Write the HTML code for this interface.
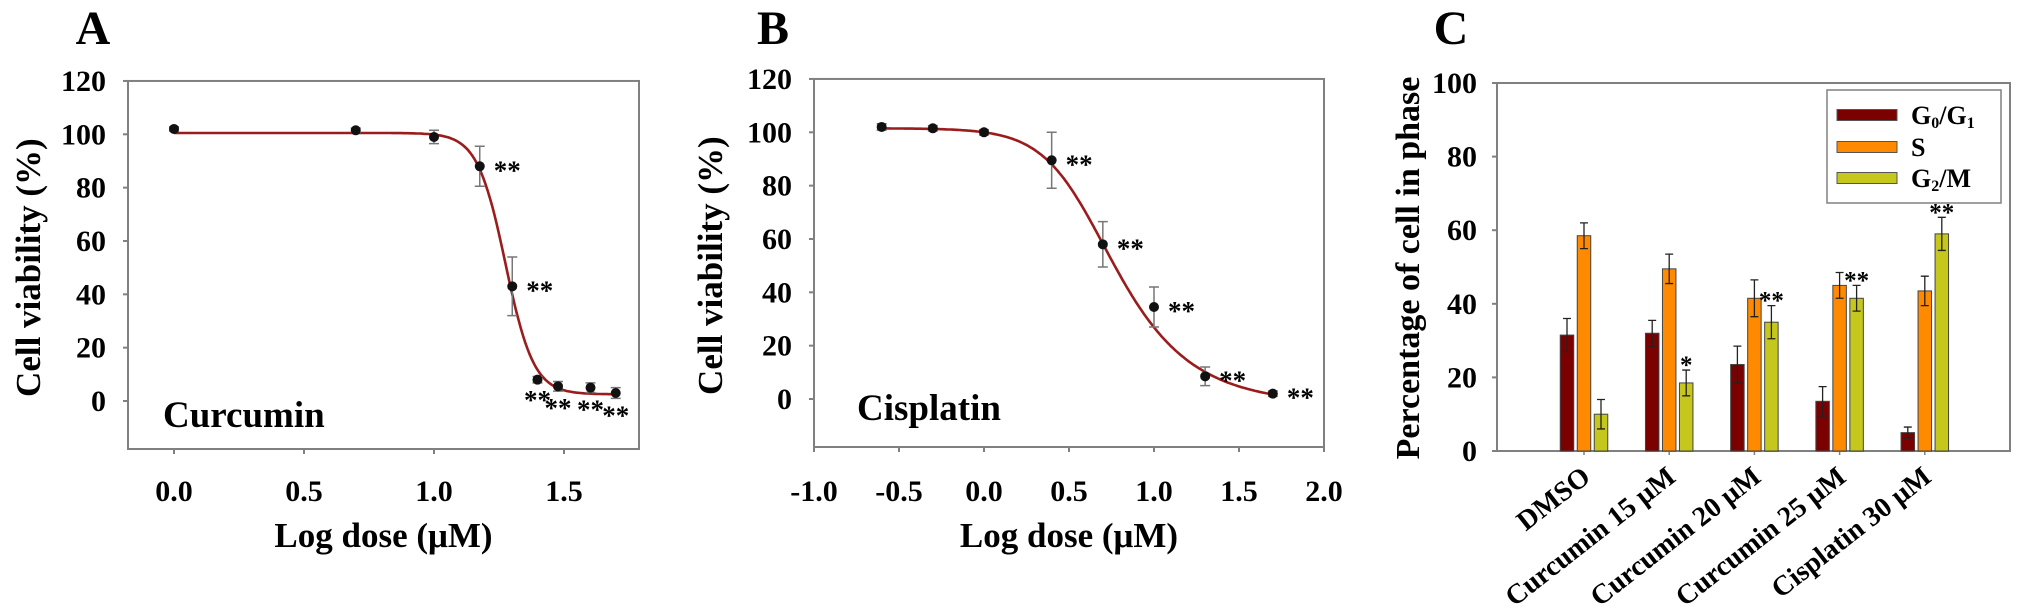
<!DOCTYPE html>
<html><head><meta charset="utf-8">
<style>
html,body{margin:0;padding:0;background:#fff;}
svg{display:block;font-family:"Liberation Serif",serif;font-weight:bold;}
</style></head>
<body>
<svg id="fig" width="2031" height="613" viewBox="0 0 2031 613" xmlns="http://www.w3.org/2000/svg">
<g id="pa"></g>
<g id="pb"></g>
<g id="pc"></g>
</svg>
<script>
// Panel A – curcumin
const aDose = [0, 0.699, 1.0, 1.176, 1.301, 1.398, 1.477, 1.602, 1.699];
const aViab = [102, 101.5, 99, 88, 43, 8, 5.5, 5, 3];
const aErr = [0.8, 0.8, 2.5, 7.5, 11, 1.2, 1.8, 1.8, 2];
const aSig = ["", "", "", "**", "**", "**", "**", "**", "**"];
const aFit = [100.5, 2.5, 1.275, 8, 1]; // top, bottom, logIC50, hill, asymmetry
const aXTicks = [0.0, 0.5, 1.0, 1.5];
// Panel B – cisplatin
const bDose = [-0.602, -0.301, 0, 0.398, 0.699, 1.0, 1.301, 1.699];
const bViab = [102, 101.5, 100, 89.5, 58, 34.5, 8.5, 2];
const bErr = [1.2, 1, 1, 10.5, 8.5, 7.5, 3.5, 1];
const bSig = ["", "", "", "**", "**", "**", "**", "**"];
const bFit = [101.5, -2, 0.587, 2.6, 0.5];
const bXTicks = [-1.0, -0.5, 0.0, 0.5, 1.0, 1.5, 2.0];
const yTicks = [0, 20, 40, 60, 80, 100, 120];
// Panel C – cell cycle
const cCats = ["DMSO", "Curcumin 15 μM", "Curcumin 20 μM", "Curcumin 25 μM", "Cisplatin 30 μM"];
const cG0 = [31.5, 32, 23.5, 13.5, 5];
const cG0Err = [4.5, 3.5, 5, 4, 1.5];
const cS = [58.5, 49.5, 41.5, 45, 43.5];
const cSErr = [3.5, 4, 5, 3.5, 4];
const cG2 = [10, 18.5, 35, 41.5, 59];
const cG2Err = [4, 3.5, 4.5, 3.5, 4.5];
const cG2Sig = ["", "*", "**", "**", "**"];
const cYTicks = [0, 20, 40, 60, 80, 100];

const NS = "http://www.w3.org/2000/svg";
function mk(parent, tag, attrs, text) {
  const e = document.createElementNS(NS, tag);
  for (const k in attrs) e.setAttribute(k, attrs[k]);
  if (text !== undefined) e.textContent = text;
  parent.appendChild(e);
  return e;
}

function dosePanel(g, o) {
  const X = v => o.x0 + (v - o.xmin) * o.xs;
  const Y = v => 401 + (o.yoff || 0) - v * 2.667;
  const L = o.left, R = o.right, T = Y(120), B = Y(-18);
  const lt = mk(g, 'text', {x: o.letterX, y: 44, 'font-size': 48, 'text-anchor': 'middle'}, o.letter);
  
  
  const fr = mk(g, 'rect', {x: L, y: T, width: R - L, height: B - T, fill: 'none', stroke: '#808080', 'stroke-width': 2});
  
  
  yTicks.forEach(t => {
    const tk = mk(g, 'line', {x1: L - 5, x2: L, y1: Y(t), y2: Y(t), stroke: '#808080', 'stroke-width': 2});
    
    
    const tl = mk(g, 'text', {x: L - 22, y: Y(t) + 10, 'font-size': 30, 'text-anchor': 'end'}, String(t));
    
    
  });
  o.xticks.forEach(t => {
    const tk = mk(g, 'line', {x1: X(t), x2: X(t), y1: B, y2: B + 5, stroke: '#808080', 'stroke-width': 2});
    
    
    const tl = mk(g, 'text', {x: X(t), y: 501, 'font-size': 30, 'text-anchor': 'middle'}, t.toFixed(1));
    
    
  });
  const yt = mk(g, 'text', {x: 0, y: 0, 'font-size': 35, 'text-anchor': 'middle', transform: `translate(${o.ytX},${Y(50)}) rotate(-90)`}, 'Cell viability (%)');
  
  
  const xt = mk(g, 'text', {x: (L + R) / 2, y: 547, 'font-size': 35, 'text-anchor': 'middle'}, 'Log dose (μM)');
  
  
  const dn = mk(g, 'text', {x: o.drugX, y: o.drugY, 'font-size': 37}, o.drug);
  
  
  const [top, bot, c, h, s] = o.fit;
  const x0 = o.dose[0], x1 = o.dose[o.dose.length - 1];
  let d = '';
  for (let i = 0; i <= 200; i++) {
    const xv = x0 + (x1 - x0) * i / 200;
    const yv = bot + (top - bot) / Math.pow(1 + Math.pow(10, (xv - c) * h), s);
    d += (i ? 'L' : 'M') + X(xv).toFixed(1) + ' ' + Y(yv).toFixed(1);
  }
  const cv = mk(g, 'path', {d, fill: 'none', stroke: '#9b1c1c', 'stroke-width': 2.6});
  
  
  o.dose.forEach((xv, i) => {
    const px = X(xv), py = Y(o.viab[i]), e = o.err[i];
    const eg = mk(g, 'path', {d: `M${px} ${Y(o.viab[i] + e)}V${Y(o.viab[i] - e)}M${px - 5} ${Y(o.viab[i] + e)}h10M${px - 5} ${Y(o.viab[i] - e)}h10`, stroke: '#777', 'stroke-width': 1.5, fill: 'none'});
    
    
    const pt = mk(g, 'circle', {cx: px, cy: py, r: 5, fill: '#111'});
    
    
    if (o.sig[i]) {
      let sx, sy, anchor;
      if (o.below && o.viab[i] < 15) { sx = px; sy = Y(o.viab[i] - e) + 26; anchor = 'middle'; }
      else { sx = px + 14; sy = py + 13; anchor = 'start'; }
      const st = mk(g, 'text', {x: sx, y: sy, 'font-size': 27, 'text-anchor': anchor}, o.sig[i]);
      
      
    }
  });
}

dosePanel(document.getElementById('pa'), {letter: 'A', letterX: 93, left: 128, right: 639, x0: 174, xmin: 0, xs: 260,
  xticks: aXTicks, dose: aDose, viab: aViab, err: aErr, sig: aSig, fit: aFit, ytX: 40,
  drug: 'Curcumin', drugX: 163, drugY: 427, below: true});
dosePanel(document.getElementById('pb'), {letter: 'B', letterX: 773, left: 814, right: 1324, x0: 814, xmin: -1, xs: 170, yoff: -2,
  xticks: bXTicks, dose: bDose, viab: bViab, err: bErr, sig: bSig, fit: bFit, ytX: 722,
  drug: 'Cisplatin', drugX: 857, drugY: 420, below: false});

// Panel C
(function () {
  const g = document.getElementById('pc');
  const L = 1497, R = 2010, T = 83, B = 451;
  const Y = v => B - v * (B - T) / 100;
  const X = i => 1584 + i * 85.2;
  const bw = 13.5, off = 17;
  const lt = mk(g, 'text', {x: 1451, y: 44, 'font-size': 48, 'text-anchor': 'middle'}, 'C');
  
  
  const fr = mk(g, 'rect', {x: L, y: T, width: R - L, height: B - T, fill: 'none', stroke: '#808080', 'stroke-width': 2});
  
  
  cYTicks.forEach(t => {
    const tk = mk(g, 'line', {x1: L - 5, x2: L, y1: Y(t), y2: Y(t), stroke: '#808080', 'stroke-width': 2});
    
    
    const tl = mk(g, 'text', {x: L - 20, y: Y(t) + 10, 'font-size': 30, 'text-anchor': 'end'}, String(t));
    
    
  });
  const yt = mk(g, 'text', {x: 0, y: 0, 'font-size': 34, 'text-anchor': 'middle', transform: `translate(1419,268) rotate(-90)`}, 'Percentage of cell in phase');
  
  
  const series = [[cG0, cG0Err, '#7b0000', -off], [cS, cSErr, '#ff8a00', 0], [cG2, cG2Err, '#c6c71c', off]];
  cCats.forEach((cat, i) => {
    const cx = X(i);
    const tk = mk(g, 'line', {x1: cx, x2: cx, y1: B, y2: B + 4, stroke: '#808080', 'stroke-width': 1.5});
    
    
    const cl = mk(g, 'text', {x: 0, y: 0, 'font-size': 28, 'text-anchor': 'end', transform: `translate(${cx + 8},${480}) rotate(-38)`}, cat);
    
    
    series.forEach(([vals, errs, col, dx]) => {
      const bx = cx + dx;
      const v = vals[i], e = errs[i];
      const r = mk(g, 'rect', {x: bx - bw / 2, y: Y(v), width: bw, height: B - Y(v), fill: col, stroke: '#444', 'stroke-width': 1});
      
      
      const eb = mk(g, 'path', {d: `M${bx} ${Y(v + e)}V${Y(v - e)}M${bx - 4} ${Y(v + e)}h8M${bx - 4} ${Y(v - e)}h8`, stroke: '#222', 'stroke-width': 1.3, fill: 'none'});
      
      
    });
    if (cG2Sig[i]) {
      const st = mk(g, 'text', {x: cx + off, y: Y(cG2[i] + cG2Err[i]) + 3, 'font-size': 25, 'text-anchor': 'middle'}, cG2Sig[i]);
      
      
    }
  });
  const lg = mk(g, 'g', {});
  
  
  const lb = mk(lg, 'rect', {x: 1827, y: 90, width: 174, height: 113, fill: '#fff', stroke: '#808080', 'stroke-width': 1.5});
  
  
  const lrows = [['G', '0', '/G', '1', '#7b0000', 115], ['S', '', '', '', '#ff8a00', 147], ['G', '2', '/M', '', '#c6c71c', 178]];
  lrows.forEach(([a, s1, b, s2, col, yy]) => {
    const sw = mk(lg, 'rect', {x: 1837, y: yy - 5.5, width: 60, height: 11, fill: col, stroke: '#555', 'stroke-width': 1});
    
    
    const t = mk(lg, 'text', {x: 1911, y: yy + 9, 'font-size': 26});
    
    
    mk(t, 'tspan', {}, a);
    if (s1) mk(t, 'tspan', {'font-size': 16, dy: 4}, s1);
    if (b) mk(t, 'tspan', {dy: s1 ? -4 : 0}, b);
    if (s2) mk(t, 'tspan', {'font-size': 16, dy: 4}, s2);
  });
})();
</script>
</body></html>
